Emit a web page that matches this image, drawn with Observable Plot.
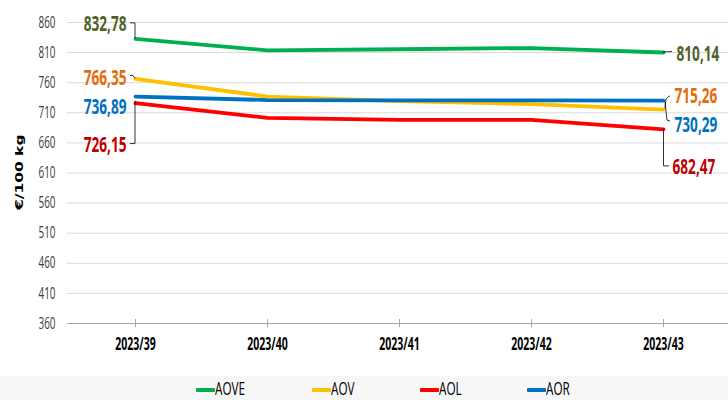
<!DOCTYPE html>
<html><head><meta charset="utf-8">
<script src="https://cdn.jsdelivr.net/npm/d3@7"></script>
<script src="https://cdn.jsdelivr.net/npm/@observablehq/plot@0.6"></script>
<style>
body{margin:0;background:#fff;width:728px;height:400px;overflow:hidden;font-family:"Open Sans",sans-serif}
#chart svg{display:block}
#legend{position:relative;height:24px;background:#f7f7f7;font-size:18px;color:#000}
#legend .item{position:absolute;top:0;height:24px;display:flex;align-items:center}
#legend .sw{width:19px;height:4px;border-radius:1px;margin-top:4px}
#legend .tx{display:inline-block;transform:scaleX(0.65);transform-origin:0 50%;margin-top:-1px;line-height:16px}
</style></head><body>
<div id="chart"></div>
<div id="legend"></div>
<script>
const weeks = ["2023/39","2023/40","2023/41","2023/42","2023/43"];
const seriesNames = ["AOVE","AOV","AOL","AOR"];
const AOVE = [832.78, 813.8, 815.6, 817.6, 810.14];
const AOV  = [766.35, 737.0, 729.5, 724.5, 715.26];
const AOL  = [726.15, 701.6, 698.4, 698.2, 682.47];
const AOR  = [736.89, 731.2, 730.6, 730.5, 730.29];
const yTicks = [360,410,460,510,560,610,660,710,760,810,860];
const yLabel = "€/100 kg";

const values = {AOVE, AOV, AOL, AOR};
const lineColor = {AOVE:"#00b050", AOV:"#ffc000", AOL:"#ff0000", AOR:"#0070c0"};
const labelColor = {AOVE:"#4f6228", AOV:"#e46c0a", AOL:"#c00000", AOR:"#0070c0"};
const SX = 0.62; // horizontal squeeze of glyphs, as in the reference

const rows = seriesNames.flatMap(s => weeks.map((w,i) => ({series:s, week:w, value:values[s][i]})));
const fmt = v => v.toFixed(2).replace(".", ",");

// label placement (pixel offsets from the data point)
const leftOff  = {AOVE:{dx:-9,dy:-14.5}, AOV:{dx:-9,dy:-1}, AOR:{dx:-9,dy:10}, AOL:{dx:-9,dy:42}};
const rightOff = {AOVE:{dx:13,dy:1}, AOV:{dx:11,dy:-14}, AOR:{dx:11,dy:24}, AOL:{dx:9,dy:38}};
const leftLeader = {
  AOVE:[[0,0],[0,-15.5],[-5,-15.5]],
  AOV:[[0,0],[-2,-3],[-5,-3]],
  AOR:null,
  AOL:[[0,-2],[0,41],[-5,41]]
};
const rightLeader = {
  AOVE:[[0,0],[9,-0.5]],
  AOV:[[2,-1],[3,-10],[6,-13],[7,-13]],
  AOR:[[2,2],[4,20],[7,21]],
  AOL:[[0.5,0],[0.5,37],[6,37]]
};

const labelMarks = [];
for (const s of seriesNames) {
  const first = rows.find(r => r.series===s && r.week===weeks[0]);
  const last = rows.find(r => r.series===s && r.week===weeks[weeks.length-1]);
  labelMarks.push(Plot.text([first], {x:"week", y:"value", text:d=>fmt(d.value), textAnchor:"end", dx:leftOff[s].dx, dy:leftOff[s].dy, fill:labelColor[s], fontSize:22, fontWeight:"bold"}));
  labelMarks.push(Plot.text([last], {x:"week", y:"value", text:d=>fmt(d.value), textAnchor:"start", dx:rightOff[s].dx, dy:rightOff[s].dy, fill:labelColor[s], fontSize:22, fontWeight:"bold"}));
}

function leaders(index, scales) {
  const g = d3.create("svg:g").attr("fill","none").attr("stroke","#000").attr("stroke-width",0.8);
  for (const s of seriesNames) {
    const pts = [[weeks[0], values[s][0], leftLeader[s]], [weeks[weeks.length-1], values[s][weeks.length-1], rightLeader[s]]];
    for (const [w, v, path] of pts) {
      if (!path) continue;
      const px = scales.x(w), py = scales.y(v);
      g.append("path").attr("d", "M" + path.map(([a,b]) => `${px+a},${py+b}`).join("L"));
    }
  }
  return g.node();
}

const plot = Plot.plot({
  width: 728, height: 376,
  marginLeft: 67, marginRight: 0, marginTop: 22, marginBottom: 53,
  style: {fontFamily: '"Open Sans",sans-serif', background: "#fff"},
  x: {type: "point", domain: weeks, range: [67, 730], padding: 0.5, label: null},
  y: {domain: [360, 860], label: null},
  marks: [
    Plot.gridY(yTicks, {stroke: "#d9d9d9", strokeOpacity: 1, strokeWidth: 1}),
    Plot.ruleY([360], {stroke: "#a6a6a6", strokeWidth: 1.2}),
    Plot.axisY({ticks: yTicks, tickSize: 0, tickPadding: 12, fill: "#3a3a3a", fontSize: 16, label: null}),
    Plot.axisX({tickSize: 8, dy: -4, tickFormat: () => "", stroke: "#a6a6a6"}),
    Plot.axisX({tickSize: 0, tickPadding: 14, fontSize: 17, fontWeight: "bold", fill: "#000", label: null}),
    Plot.text([yLabel], {frameAnchor: "left", rotate: -90, dx: -48, dy: 37, fontFamily: "DejaVu Sans", fontWeight: "bold", fontSize: 15.5, fill: "#000"}),
    Plot.line(rows, {x: "week", y: "value", z: "series", stroke: d => lineColor[d.series], strokeWidth: 3.8, curve: "linear"}),
    leaders,
    ...labelMarks
  ]
});

// squeeze glyphs horizontally about their anchor
plot.querySelectorAll("text").forEach(t => {
  const tr = t.getAttribute("transform") || "";
  const rotated = /rotate/.test(tr);
  t.setAttribute("transform", (tr + (rotated ? ` scale(1,${SX})` : ` scale(${SX},1)`)).trim());
});
document.getElementById("chart").append(plot);

const legendLeft = {AOVE:196, AOV:312, AOL:420, AOR:527};
const legend = document.getElementById("legend");
for (const s of seriesNames) {
  const item = document.createElement("div");
  item.className = "item";
  item.style.left = legendLeft[s] + "px";
  const sw = document.createElement("span");
  sw.className = "sw"; sw.style.background = lineColor[s];
  const t = document.createElement("span");
  t.className = "tx";
  t.textContent = s;
  item.append(sw, t);
  legend.append(item);
}
</script>
</body></html>
